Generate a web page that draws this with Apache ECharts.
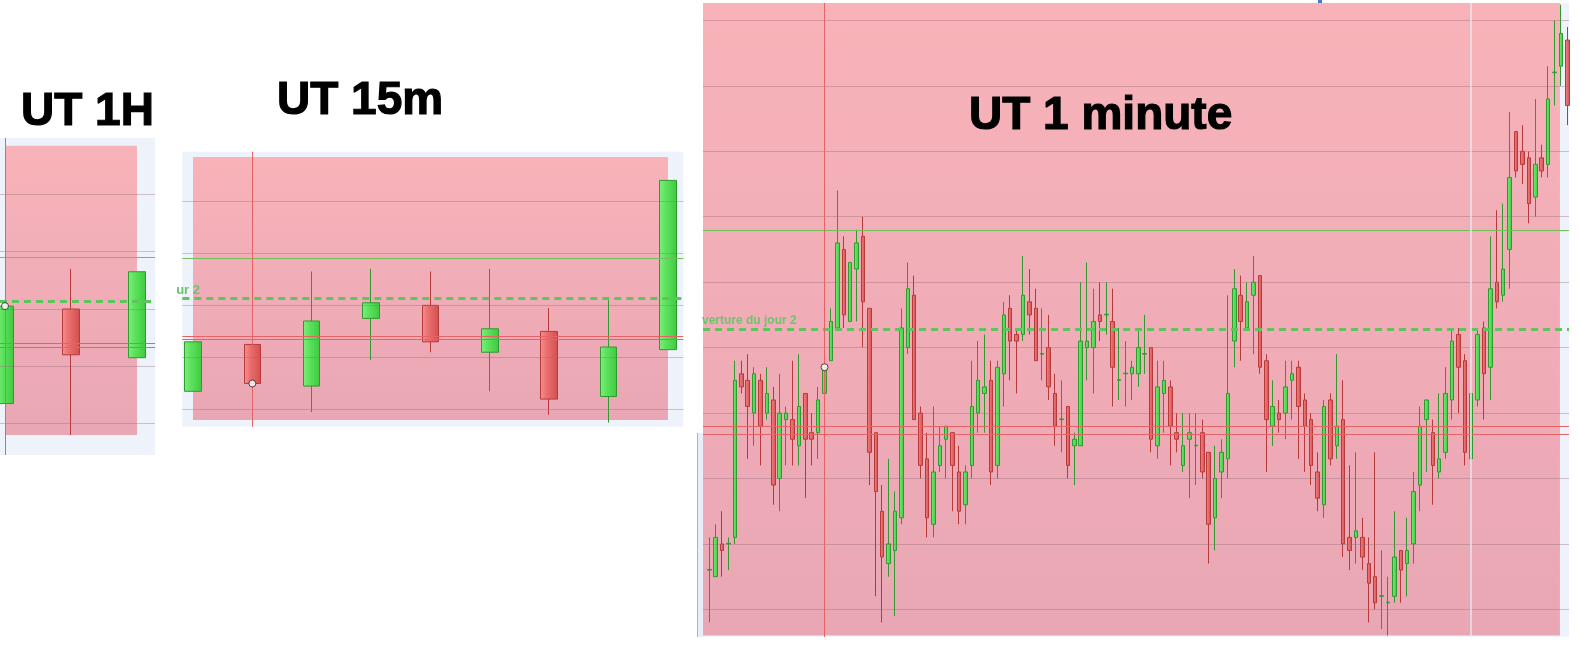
<!DOCTYPE html>
<html><head><meta charset="utf-8">
<script src="https://cdn.jsdelivr.net/npm/echarts@6/dist/echarts.min.js"></script>
<style>html,body{margin:0;padding:0;background:#fff}#c{width:1579px;height:648px}</style>
</head><body><div id="c"></div>
<script>
// ---------------- DATA ----------------
const titles = ['UT 1H', 'UT 15m', 'UT 1 minute'];
// candles: [open, close, low, high]
const candles1H = [
  [4033.5, 4050.5, 4033.5, 4050.5],
  [4050, 4042, 4028, 4057],
  [4041.5, 4056.5, 4041.5, 4056.5]
];
const candles15m = [
  [4033.5, 4043, 4033.5, 4043],
  [4042.5, 4035, 4029, 4062],
  [4034.5, 4047, 4029.5, 4056.5],
  [4047.5, 4050.5, 4039.5, 4057],
  [4050, 4043, 4041, 4056.5],
  [4041, 4045.5, 4033.5, 4057],
  [4045, 4032, 4029, 4049.5],
  [4032.5, 4042, 4027.5, 4051],
  [4041.5, 4074, 4041.5, 4074]
];
const candles1m = [
  [4033,4033.05,4029,4035.5],[4032.5,4035.5,4032.5,4036.5],[4035,4034.5,4032.5,4037.5],[4035,4035.05,4033,4035.5],
  [4035.5,4047.5,4035,4049],[4048,4047,4046.5,4049],[4047.5,4045.5,4041.5,4049.5],[4045,4048,4042.5,4048.5],
  [4047.5,4044,4041,4048],[4045,4046.5,4044.5,4048.5],[4046,4039.5,4038,4047],[4040,4045,4037.5,4048],
  [4044.5,4045,4041,4045.5],[4044.5,4043,4041,4049],[4042.5,4045.5,4041,4049.5],[4046.5,4043,4038.5,4046.5],
  [4043.5,4043,4041,4045],[4043.5,4046,4041.5,4047],[4046.5,4048.5,4046.5,4050.5],[4049,4052,4049,4053],
  [4051.5,4058,4051.5,4062],[4057.5,4052.5,4051.5,4058.5],[4052,4056.5,4052,4056.5],[4056,4058,4052,4059],
  [4058.5,4053.5,4050,4060],[4053,4042,4039.5,4053],[4043.5,4039,4031,4043.5],[4037.5,4034,4029,4039.5],
  [4033.5,4035,4032.5,4041.5],[4034.5,4037.5,4029.5,4039],[4037,4051.5,4036.5,4053],[4050,4054.5,4049.5,4056.5],
  [4054,4044.5,4044.5,4055.5],[4045,4041,4040,4045.5],[4041.5,4037,4035.5,4043.5],[4036.5,4040.5,4035.5,4045.5],
  [4041,4042.5,4040.5,4044],[4043,4044,4040,4044],[4043.5,4041,4037.5,4043.5],[4040.5,4037.5,4036.5,4042.5],
  [4038,4040.5,4036.5,4041],[4041,4045.5,4040,4049],[4045,4047.5,4043.5,4050.5],[4046.5,4047,4043.5,4051],
  [4047.5,4040.5,4039.5,4049],[4041,4048.5,4040,4049],[4048,4052.5,4045.5,4053.5],[4053,4050.5,4047.5,4054],
  [4051,4050.5,4046.5,4051.5],[4051,4054,4050.5,4057],[4053.5,4052.5,4051,4056],[4053,4049,4049,4054.5],
  [4049.5,4049.55,4047.5,4053],[4050,4047,4046,4052.5],[4046.5,4044,4042.5,4048],[4044.5,4044.55,4042,4047.5],
  [4045.5,4041,4040,4045.5],[4042.5,4043,4039.5,4043.5],[4042.5,4050.5,4042.5,4055],[4050,4050.5,4047.5,4056.5],
  [4050,4052,4046.5,4054.5],[4052.5,4052,4050.5,4055],[4052.5,4052.55,4051,4055],[4052,4048.5,4045.5,4054.5],
  [4047.5,4047.55,4046,4051.5],[4048,4048.05,4045.5,4050.5],[4048,4048.5,4046,4049],[4048,4050,4047,4051.5],
  [4049.5,4049.55,4048,4052.5],[4050,4043,4042,4050],[4042.5,4047,4041.5,4049],[4046.5,4047.5,4043.5,4049],
  [4047,4044,4041,4047.5],[4043.5,4043,4042,4045],[4041,4042.5,4040.5,4045],[4043,4043.5,4038.5,4045],
  [4042.5,4042.55,4039.5,4045],[4043.5,4040.5,4040,4044.5],[4042,4036.5,4033.5,4042],[4037,4040,4034.5,4042.5],
  [4040.5,4042,4038.5,4043],[4041.5,4046.5,4040,4054],[4050.5,4054.5,4048.5,4056],[4054,4052,4049,4055.5],
  [4051.5,4053.5,4051.5,4055],[4054,4055,4049.5,4057],[4055.5,4048.5,4048,4055.5],[4049,4044.5,4040.5,4049.5],
  [4044,4045.5,4042.5,4047.5],[4045,4044.5,4043.5,4046],[4045,4047,4043,4049],[4047.5,4048,4044.5,4049],
  [4048.5,4045.5,4041.5,4049],[4046,4044,4040.5,4046.5],[4044.5,4041,4039.5,4045],[4040.5,4038.5,4037.5,4042],
  [4038,4045.5,4037,4046],[4046,4041.5,4041,4046.5],[4042.5,4044,4041.5,4049.5],[4044.5,4035,4034,4047.5],
  [4035.5,4034.5,4033,4041],[4035.5,4036,4033.5,4042],[4035.5,4034,4033,4037],[4033.5,4032,4029,4035.5],
  [4032.5,4030.5,4030,4042],[4031,4031.05,4028.5,4034.5],[4030.5,4030.55,4028,4032.5],[4031,4034,4030.5,4037.5],
  [4034.5,4033,4030.5,4034.5],[4033.5,4034.5,4031,4037],[4035,4039,4033.5,4040.5],[4039.5,4044,4037.5,4045.5],
  [4044.5,4046,4040.5,4046],[4043.5,4041,4038,4044.5],[4040.5,4041.5,4040,4046.5],[4042,4046.5,4041.5,4048.5],
  [4046,4050.5,4044.5,4051.5],[4051,4048.5,4045,4051.5],[4049,4042,4041,4049.5],[4041.5,4046.5,4041.5,4046.5],
  [4046,4051,4045.5,4051.5],[4051.5,4048,4044.5,4052],[4048.5,4054.5,4046,4058.5],[4055,4053.5,4053,4060.5],
  [4054,4056,4053.5,4061],[4057.5,4063,4054.5,4068],[4066.5,4063.5,4063,4066.5],[4065,4064,4062.5,4067],
  [4064.5,4061,4059.5,4065],[4061.5,4064,4060,4069],[4064.5,4063.5,4063,4065.5],[4064,4069,4063,4071.5],
  [4071,4071.05,4068.5,4075],[4071.5,4074,4070,4076.2],[4073.5,4068.5,4067,4074.5]
];
const levelResistance = 4059.0;
const levelOpen = 4051.4;
const levelSupports = [4044.0, 4043.4];
const zoneRange = [4028.0, 4078.5];
const gridLevels1H = [4030, 4040, 4050, 4060, 4070];
const gridLevels15m = [4030, 4040, 4050, 4060, 4070];
const gridLevels1m = [4030, 4035, 4040, 4045, 4050, 4055, 4060, 4065, 4070, 4075];
const markedIndex = [0, 1, 18];
const markedPrice = [4050.5, 4035, 4048.5];
const openLabels = ['', 'ur 2', 'verture du jour 2'];
const sessionBreak1m = 119;

// ---------------- LAYOUT ----------------
const panels = [
  {data: candles1H, levels: gridLevels1H, left: 0, top: 138, width: 155, height: 317,
   xMin: -0.076, xMax: 2.273, yMin: 4024.52, yMax: 4079.84, barWidth: 17, zoneX: [0, 2]},
  {data: candles15m, levels: gridLevels15m, left: 182.3, top: 151.7, width: 501, height: 275,
   xMin: -0.18, xMax: 8.258, yMin: 4026.70, yMax: 4079.51, barWidth: 17, zoneX: [0, 8]},
  {data: candles1m, levels: gridLevels1m, left: 703, top: 3, width: 866, height: 634,
   xMin: -0.984, xMax: 134.27, yMin: 4027.89, yMax: 4076.33, barWidth: 4, zoneX: [-0.984, 132.86]}
];

const G = echarts.graphic;
const upFill = new G.LinearGradient(0, 0, 1, 0, [{offset: 0, color: '#7cf07c'}, {offset: 0.35, color: '#5fe35f'}, {offset: 1, color: '#3fc93f'}]);
const downFill = new G.LinearGradient(0, 0, 1, 0, [{offset: 0, color: '#f69090'}, {offset: 0.35, color: '#ec7070'}, {offset: 1, color: '#d24e4e'}]);
const pinkFill = new G.LinearGradient(0, 0, 0, 1, [{offset: 0, color: '#f8b3b9'}, {offset: 1, color: '#e9a7b5'}]);

const grid = [], xAxis = [], yAxis = [], series = [];
panels.forEach((p, i) => {
  grid.push({left: p.left, top: p.top, width: p.width, height: p.height, show: true,
    backgroundColor: '#eef2fb', borderWidth: 0});
  xAxis.push({type: 'value', gridIndex: i, min: p.xMin, max: p.xMax, show: false, splitLine: {show: false}});
  yAxis.push({type: 'value', gridIndex: i, min: p.yMin, max: p.yMax, show: false, splitLine: {show: false}});
  const lines = [];
  p.levels.forEach(v => lines.push({yAxis: v, lineStyle: {color: 'rgba(150,105,118,0.38)', width: 1, type: 'solid'}}));
  lines.push({yAxis: levelResistance, lineStyle: {color: '#74bf5c', width: 1, type: 'solid'}});
  levelSupports.forEach(v => lines.push({yAxis: v, lineStyle: {color: '#e46464', width: 1, type: 'solid'}}));
  lines.push({yAxis: levelOpen, lineStyle: {color: '#5cc65c', width: 3, type: [7, 5]}});
  lines.push({xAxis: markedIndex[i], lineStyle: {color: '#e46464', width: 1, type: 'solid'}});
  if (i === 2) lines.push({xAxis: sessionBreak1m, lineStyle: {color: 'rgba(232,234,242,0.9)', width: 1.5, type: 'solid'}});
  series.push({
    type: 'candlestick', xAxisIndex: i, yAxisIndex: i, barWidth: p.barWidth,
    data: p.data.map((d, k) => [k, d[0], d[1], d[2], d[3]]),
    itemStyle: {color: upFill, color0: downFill, borderColor: '#2f9a2f', borderColor0: '#b63a3a', borderWidth: 1},
    markArea: {silent: true, itemStyle: {color: pinkFill},
      data: [[{xAxis: p.zoneX[0], yAxis: Math.max(zoneRange[0], p.yMin)}, {xAxis: p.zoneX[1], yAxis: Math.min(zoneRange[1], p.yMax)}]]},
    markLine: {silent: true, symbol: ['none', 'none'], label: {show: false}, animation: false, data: lines}
  });
  series.push({
    type: 'scatter', xAxisIndex: i, yAxisIndex: i, z: 10, symbol: 'circle', symbolSize: 7,
    itemStyle: {color: '#ffffff', borderColor: '#222', borderWidth: 1},
    data: [[markedIndex[i], markedPrice[i]]]
  });
});

const titleFont = 'bold 46px "Liberation Sans", Arial, sans-serif';
const titleStyle = (t) => ({text: t, font: titleFont, fill: '#000', stroke: '#000', lineWidth: 1.2, align: 'left', verticalAlign: 'middle'});
const graphic = [
  {type: 'rect', shape: {x: 697, y: 433, width: 6, height: 204}, style: {fill: '#e8edf8'}, z: 1},
  {type: 'line', shape: {x1: 697.5, y1: 433, x2: 697.5, y2: 637}, style: {stroke: 'rgba(225,120,130,0.7)', lineWidth: 1}, z: 1},
  {type: 'rect', shape: {x: 1318, y: 0, width: 4, height: 3}, style: {fill: '#4a78c8'}, z: 1},
  {type: 'text', x: 21, y: 112, z: 100, style: titleStyle(titles[0])},
  {type: 'text', x: 277, y: 101, z: 100, style: titleStyle(titles[1])},
  {type: 'text', x: 969, y: 116, z: 100, style: titleStyle(titles[2])},
  {type: 'text', x: 200, y: 290.5, z: 100, style: {text: openLabels[1], font: 'bold 13px "Liberation Sans", Arial, sans-serif', fill: '#6cc46c', align: 'right', verticalAlign: 'middle'}},
  {type: 'text', x: 702, y: 321, z: 100, style: {text: openLabels[2], font: 'bold 12px "Liberation Sans", Arial, sans-serif', fill: '#6cc46c', align: 'left', verticalAlign: 'middle'}}
];

const chart = echarts.init(document.getElementById('c'), null, {renderer: 'canvas'});
chart.setOption({animation: false, backgroundColor: '#ffffff', grid, xAxis, yAxis, series, graphic});
</script>
</body></html>
